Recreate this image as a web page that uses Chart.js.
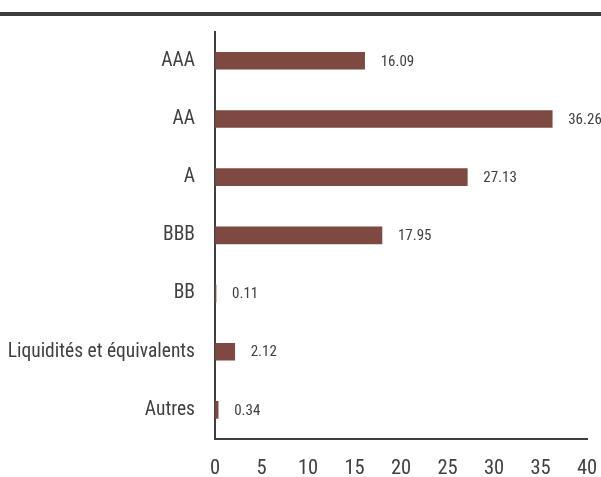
<!DOCTYPE html>
<html>
<head>
<meta charset="utf-8">
<script src="https://cdn.jsdelivr.net/npm/chart.js@4"></script>
<style>
  html, body { margin: 0; padding: 0; background: #fff; }
  #wrap { width: 601px; height: 477px; position: relative; }
</style>
</head>
<body>
<div id="wrap"><canvas id="myChart" width="601" height="477"></canvas></div>
<script>
// rating breakdown (%)
var categories = ["AAA", "AA", "A", "BBB", "BB", "Liquidités et équivalents", "Autres"];
var values = [16.09, 36.26, 27.13, 17.95, 0.11, 2.12, 0.34];
var xTicks = [0, 5, 10, 15, 20, 25, 30, 35, 40];

var FONT = "'Roboto Condensed', 'DejaVu Sans Condensed', sans-serif";

// dark rule across the top + value labels at bar ends
var decor = {
  id: "decor",
  beforeDraw: function (chart) {
    var ctx = chart.ctx;
    ctx.save();
    ctx.fillStyle = "#3d3d3d";
    ctx.fillRect(0, 12, chart.width, 4);
    ctx.restore();
  },
  afterDatasetsDraw: function (chart) {
    var ctx = chart.ctx;
    var meta = chart.getDatasetMeta(0);
    ctx.save();
    ctx.font = "15px " + FONT;
    ctx.fillStyle = "#404040";
    ctx.textBaseline = "middle";
    ctx.textAlign = "left";
    meta.data.forEach(function (bar, i) {
      ctx.fillText(values[i].toFixed(2), bar.x + 16, bar.y + 1);
    });
    ctx.restore();
  }
};

new Chart("myChart", {
  type: "bar",
  data: {
    labels: categories,
    datasets: [
      {
        data: values,
        backgroundColor: "#7d4940",
        borderWidth: 0,
        barThickness: 17,
      },
    ],
  },
  options: {
    indexAxis: "y",
    responsive: false,
    animation: false,
    layout: {
      padding: { top: 31, right: 14, left: 0, bottom: 0 },
    },
    plugins: {
      legend: { display: false },
      tooltip: { enabled: false },
    },
    scales: {
      x: {
        min: 0,
        max: 40,
        afterBuildTicks: function (scale) {
          scale.ticks = xTicks.map(function (v) { return { value: v }; });
        },
        grid: { color: "rgba(0,0,0,0)", drawTicks: false },
        border: { display: true, color: "#404040", width: 2 },
        ticks: {
          font: { family: FONT, size: 20.5 },
          color: "#404040",
          padding: 18,
          maxRotation: 0,
        },
        afterFit: function (scale) {
          scale.height = 38;
          scale.paddingLeft = 0;
          scale.paddingRight = 0;
        },
      },
      y: {
        grid: { color: "rgba(0,0,0,0)", drawTicks: false },
        border: { display: true, color: "#404040", width: 2 },
        ticks: {
          font: { family: FONT, size: 19.5 },
          color: "#404040",
          padding: 20,
        },
        afterFit: function (scale) { scale.width = 215; },
      },
    },
  },
  plugins: [decor],
});
</script>
</body>
</html>
